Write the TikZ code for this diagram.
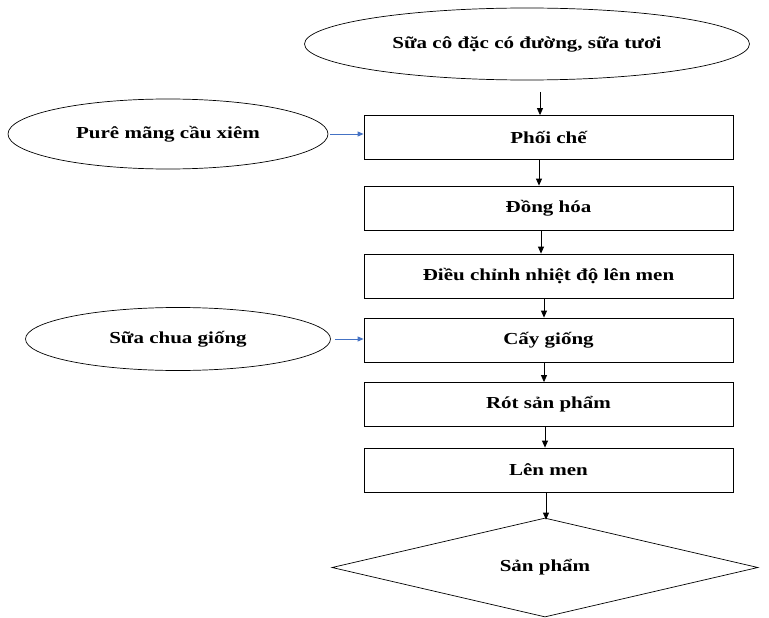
\documentclass[tikz,border=0pt]{standalone}
\usepackage{fontspec}
\setmainfont[FakeStretch=1.25]{Liberation Serif}
\usetikzlibrary{shapes.geometric,arrows.meta}
\definecolor{arrblue}{RGB}{68,114,196}
\begin{document}
\begin{tikzpicture}[x=1pt,y=-1pt,
  every node/.style={font=\bfseries\fontsize{16.8}{19}\selectfont, inner sep=0pt},
  stepbox/.style={draw, line width=0.8pt, minimum width=369pt, minimum height=44pt},
  oval/.style={draw, ellipse, line width=0.7pt},
  prod/.style={draw, diamond, aspect=4.35, line width=0.7pt, minimum width=426pt, minimum height=99pt},
  flow/.style={-{Triangle[length=7pt,width=6pt]}, line width=0.8pt},
  side/.style={-{Triangle[length=6pt,width=5pt]}, line width=0.8pt, arrblue}]
\useasboundingbox (0,0) rectangle (769,618);
\node[oval, minimum width=445pt, minimum height=72pt] (milk) at (527,44) {Sữa cô đặc có đường, sữa tươi};
\node[oval, minimum width=320pt, minimum height=70pt] (puree) at (168,134) {Purê mãng cầu xiêm};
\node[oval, minimum width=305pt, minimum height=63pt] (starter) at (178,339) {Sữa chua giống};
\node[stepbox] (mix) at (548.5,137.5) {Phối chế};
\node[stepbox] (homo) at (548.5,208) {Đồng hóa};
\node[stepbox] (temp) at (548.5,276) {Điều chỉnh nhiệt độ lên men};
\node[stepbox] (inoc) at (548.5,340) {Cấy giống};
\node[stepbox] (fill) at (548.5,404.5) {Rót sản phẩm};
\node[stepbox] (ferm) at (548.5,470) {Lên men};
\node[prod] (prod) at (545,567.5) {Sản phẩm};
\coordinate (a0) at (540,92);
\coordinate (a1) at (539,0);
\coordinate (a2) at (541,0);
\coordinate (a3) at (544,0);
\coordinate (a4) at (544,0);
\coordinate (a5) at (545,0);
\coordinate (a6) at (546,0);
\draw[flow] (a0) -- (a0 |- mix.north);
\draw[flow] (a1 |- mix.south) -- (a1 |- homo.north);
\draw[flow] (a2 |- homo.south) -- (a2 |- temp.north);
\draw[flow] (a3 |- temp.south) -- (a3 |- inoc.north);
\draw[flow] (a4 |- inoc.south) -- (a4 |- fill.north);
\draw[flow] (a5 |- fill.south) -- (a5 |- ferm.north);
\draw[flow] (a6 |- ferm.south) -- ([yshift=-2pt]a6 |- prod.north);
\draw[side] ([xshift=2pt]puree.east) -- (mix.west |- puree.east);
\draw[side] ([xshift=4pt]starter.east) -- (inoc.west |- starter.east);
\end{tikzpicture}
\end{document}
